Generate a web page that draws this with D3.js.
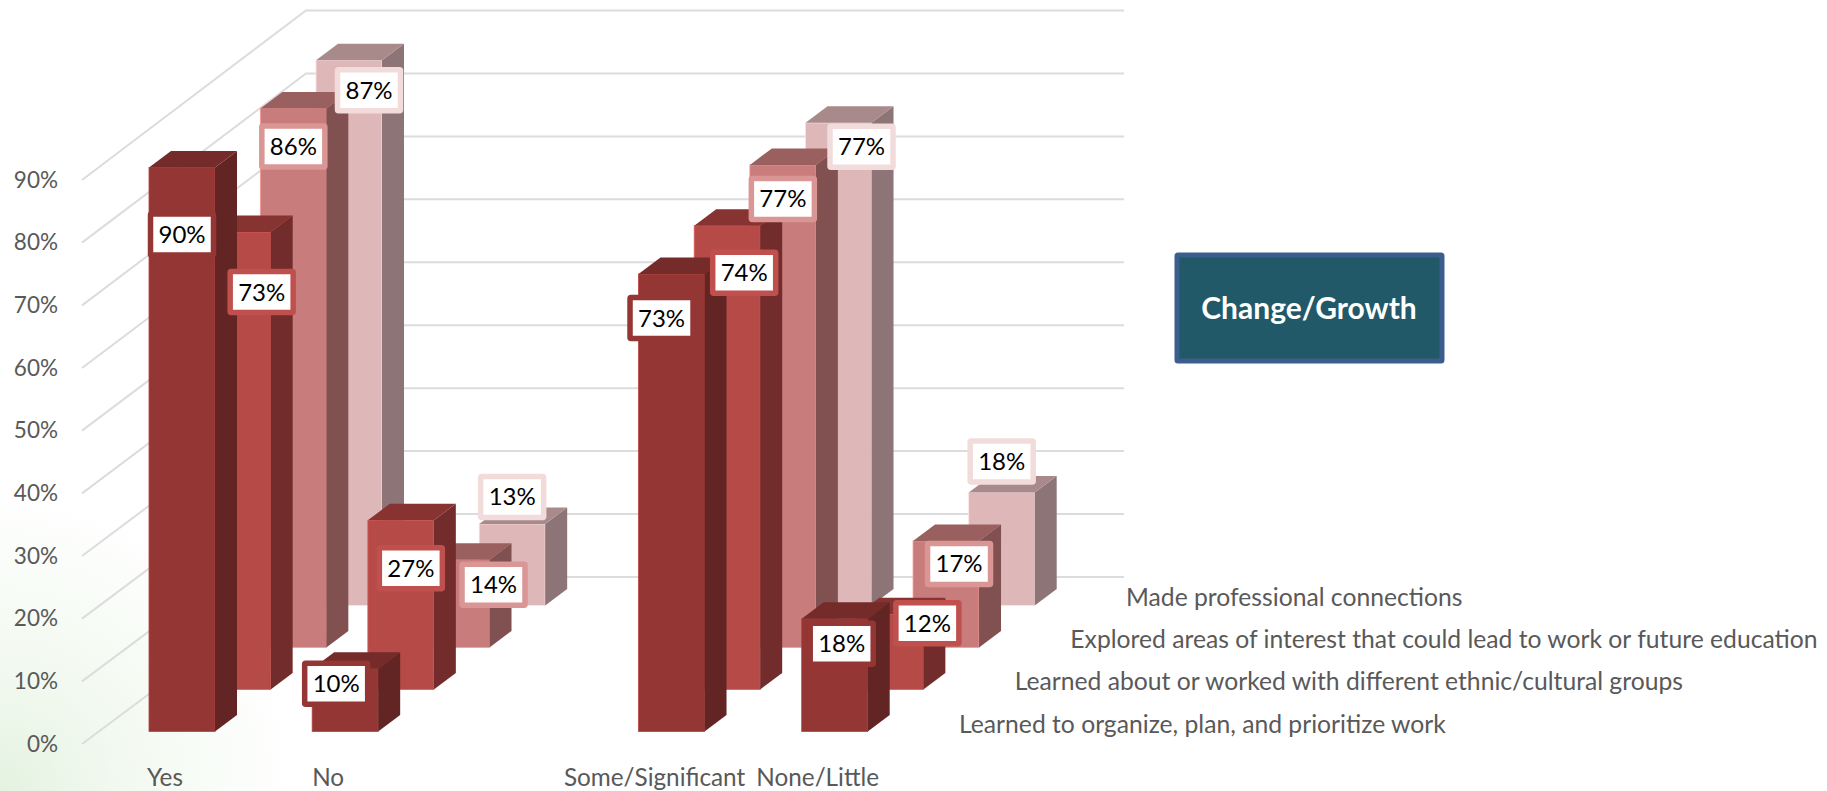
<!DOCTYPE html>
<html lang="en">
<head>
  <meta charset="UTF-8">
  <title>Change/Growth</title>
  <style>
    html, body { margin: 0; padding: 0; background: #fff; overflow: hidden; }
    text { font-family: Lato, "Open Sans", sans-serif; }
    .cat { fill: #595959; font-size: 24.3px; }
    .series-name { fill: #595959; font-size: 24.7px; }
    .val { fill: #000; font-size: 24px; text-anchor: middle; }
  </style>
</head>
<body>
  <script src="https://cdn.jsdelivr.net/npm/d3@7"></script>
  <script type="text/javascript">

    var width = 1827;
    var height = 791;

    // blank slot between No and Some/Significant is part of the original axis
    var categories = ["Yes", "No", "", "Some/Significant", "None/Little"];
    var seriesNames = [
      "Learned to organize, plan, and prioritize work",
      "Learned about or worked with different ethnic/cultural groups",
      "Explored areas of interest that could lead to work or future education",
      "Made professional connections"
    ];
    var organize = [90, 10, null, 73, 18];
    var ethnic = [73, 27, null, 74, 12];
    var explored = [86, 14, null, 77, 17];
    var connections = [87, 13, null, 77, 18];
    var ticks = [0, 10, 20, 30, 40, 50, 60, 70, 80, 90];
    var chartTitle = "Change/Growth";

    var values = [organize, ethnic, explored, connections];

    // front, side, top, label border for each series
    var colors = [
      ["#943634", "#632523", "#742b29", "#943634"],
      ["#b54a47", "#722c2b", "#873331", "#c0504d"],
      ["#c87c7b", "#815050", "#9a6060", "#d99694"],
      ["#deb7b8", "#8d7577", "#a98a8b", "#f2dcdb"]
    ];

    // data labels were dragged by hand in the original, offsets from bar top centre
    var labelNudge = [
      [[0, 67], [-9, 15], null, [-10, 44], [7, 25]],
      [[24, 60], [10, 48], null, [17, 47], [37, 9]],
      [[0, 38], [37, 25], null, [0, 34], [13, 23]],
      [[20, 30], [0, -27], null, [23, 24], [0, -31]]
    ];

    var barW = 66, sideX = 22, sideY = 16.5;

    var x = d3.scalePoint().domain(d3.range(categories.length)).range([149, 801.7]);
    var y = d3.scaleLinear().domain([0, 90]).range([744, 180]);
    var yBack = d3.scaleLinear().domain([0, 90]).range([577, 10.5]);
    // depth axis: one step for each series
    var depthX = d3.scaleLinear().domain([0, 3]).range([0, 167]);
    var depthY = d3.scaleLinear().domain([0, 3]).range([731.5, 605.4]);
    var nameY = d3.scaleLinear().domain([0, 3]).range([724.5, 597.5]);

    var svg = d3.select("body")
      .append("svg")
        .attr("width", width)
        .attr("height", height)
        .style("display", "block");

    var defs = svg.append("defs");
    var glow = defs.append("radialGradient")
        .attr("id", "glow")
        .attr("gradientUnits", "userSpaceOnUse")
        .attr("cx", 0).attr("cy", height).attr("r", 300);
    glow.append("stop").attr("offset", "0").attr("stop-color", "#e4f2e0");
    glow.append("stop").attr("offset", "0.4").attr("stop-color", "#f2f9f0");
    glow.append("stop").attr("offset", "1").attr("stop-color", "#ffffff");

    svg.append("rect")
        .attr("width", width).attr("height", height).attr("fill", "#fff");
    svg.append("rect")
        .attr("x", 0).attr("y", height - 300)
        .attr("width", 300).attr("height", 300)
        .attr("fill", "url(#glow)");

    // walls
    var wallX = 82, backX = 306, backEnd = 1124;
    svg.append("g").selectAll("path")
      .data(ticks)
      .enter()
      .append("path")
        .attr("fill", "none")
        .attr("stroke", "#dcdcdc")
        .attr("stroke-width", 2)
        .attr("d", function(d) {
          return "M" + wallX + "," + y(d) + "L" + backX + "," + yBack(d) + "H" + backEnd;
        });

    var yAxis = d3.axisLeft(y)
        .tickValues(ticks)
        .tickSize(0)
        .tickPadding(24)
        .tickFormat(function(d) { return d + "%"; });

    var axisG = svg.append("g")
        .attr("class", "axis")
        .attr("transform", "translate(" + wallX + ",0)")
        .call(yAxis);
    axisG.select(".domain").remove();
    axisG.selectAll("text")
        .style("font-family", "Lato")
        .style("font-size", "22.5px")
        .style("fill", "#595959");

    // one flat list of bars, back series first so nearer ones paint over
    var bars = [];
    d3.range(values.length).reverse().forEach(function(s) {
      values[s].forEach(function(v, c) {
        if (v !== null) bars.push({ s: s, c: c, v: v });
      });
    });

    function barLeft(d) { return x(d.c) + depthX(d.s); }
    function barBase(d) { return depthY(d.s); }
    function barTop(d) { return barBase(d) - (y(0) - y(d.v)); }

    var bar = svg.append("g").selectAll("g")
      .data(bars)
      .enter()
      .append("g");

    bar.append("rect")
        .attr("x", barLeft)
        .attr("y", barTop)
        .attr("width", barW)
        .attr("height", function(d) { return barBase(d) - barTop(d); })
        .attr("fill", function(d) { return colors[d.s][0]; })
        .attr("stroke", function(d) { return d3.color(colors[d.s][0]).brighter(0.6); })
        .attr("stroke-width", 0.8);

    // side face
    bar.append("path")
        .attr("fill", function(d) { return colors[d.s][1]; })
        .attr("d", function(d) {
          var r = barLeft(d) + barW;
          return "M" + r + "," + barTop(d) +
                 "L" + (r + sideX) + "," + (barTop(d) - sideY) +
                 "V" + (barBase(d) - sideY) +
                 "L" + r + "," + barBase(d) + "Z";
        });

    // top face
    bar.append("path")
        .attr("fill", function(d) { return colors[d.s][2]; })
        .attr("d", function(d) {
          var l = barLeft(d);
          return "M" + l + "," + barTop(d) +
                 "L" + (l + sideX) + "," + (barTop(d) - sideY) +
                 "H" + (l + barW + sideX) +
                 "L" + (l + barW) + "," + barTop(d) + "Z";
        });

    // data labels
    var lab = svg.append("g").selectAll("g")
      .data(bars)
      .enter()
      .append("g")
        .attr("transform", function(d) {
          var n = labelNudge[d.s][d.c];
          return "translate(" + (barLeft(d) + barW / 2 + n[0]) + "," + (barTop(d) + n[1]) + ")";
        });

    lab.append("rect")
        .attr("x", -31.5).attr("y", -20.5)
        .attr("width", 63).attr("height", 41)
        .attr("rx", 1)
        .attr("fill", "#fff")
        .attr("stroke", function(d) { return colors[d.s][3]; })
        .attr("stroke-width", 5.5);

    lab.append("text")
        .attr("class", "val")
        .attr("y", 8.5)
        .text(function(d) { return d.v + "%"; });

    // category labels under the front row
    svg.append("g").selectAll("text")
      .data(categories)
      .enter()
      .append("text")
        .attr("class", "cat")
        .attr("text-anchor", "middle")
        .attr("x", function(d, i) { return x(i) + 16; })
        .attr("y", 786)
        .text(function(d) { return d; });

    // series names run back along the depth axis
    svg.append("g").selectAll("text")
      .data(seriesNames)
      .enter()
      .append("text")
        .attr("class", "series-name")
        .attr("x", function(d, i) { return 959 + depthX(i); })
        .attr("y", function(d, i) { return nameY(i) + 8; })
        .text(function(d) { return d; });

    // title box
    svg.append("rect")
        .attr("x", 1177).attr("y", 255)
        .attr("width", 265).attr("height", 106)
        .attr("rx", 1)
        .attr("fill", "#215968")
        .attr("stroke", "#3c5e8f")
        .attr("stroke-width", 5);

    svg.append("text")
        .attr("x", 1309).attr("y", 319)
        .attr("text-anchor", "middle")
        .attr("fill", "#fff")
        .attr("font-weight", "bold")
        .attr("font-size", 30)
        .text(chartTitle);

  </script>
</body>
</html>
